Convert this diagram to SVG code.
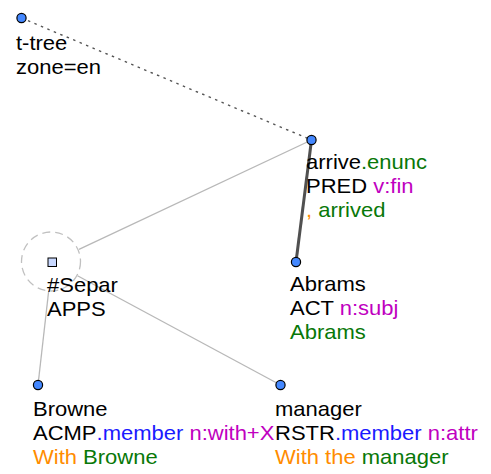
<svg xmlns="http://www.w3.org/2000/svg" width="491" height="474" viewBox="0 0 491 474">
<style>
text{font-family:"Liberation Sans",Arial,Helvetica,sans-serif;font-size:20px;fill:#000}
.node{fill:#4488ff;stroke:#000;stroke-width:1.2}
.g{fill:#087808}.m{fill:#c000c0}.b{fill:#1a1aff}.o{fill:#ff8c00}
.thin{stroke:#b8b8b8;stroke-width:1.3;fill:none}
.thick{stroke:#505050;stroke-width:3;fill:none}
.dot{stroke:#555;stroke-width:1.4;stroke-dasharray:2.5 4.5;fill:none}
</style>
<rect width="491" height="474" fill="#fff"/>
<g id="connectors">
<line class="dot" x1="21.5" y1="18" x2="311.5" y2="140"/>
<line class="thin" x1="311.5" y1="140" x2="79" y2="249.3"/>
<line class="thick" x1="311.5" y1="140" x2="296" y2="262"/>
<line class="thin" x1="48.7" y1="290.8" x2="38" y2="385"/>
<line class="thin" x1="77.5" y1="275.8" x2="280.5" y2="385"/>
</g>
<g id="ttree">
<circle class="node" cx="21.5" cy="18" r="4.6"/>
<g transform="translate(16,0) scale(1.1,1)"><text x="0" y="50">t-tree</text><text x="0" y="74">zone=en</text></g>
</g>
<g id="arrive">
<circle class="node" cx="311.5" cy="140" r="4.6"/>
<g transform="translate(306,0) scale(1.1,1)"><text x="0" y="169">arrive<tspan class="g">.enunc</tspan></text><text x="0" y="193">PRED <tspan class="m">v:fin</tspan></text><text x="0" y="217"><tspan class="o">,</tspan><tspan class="g"> arrived</tspan></text></g>
</g>
<g id="separ">
<circle cx="51" cy="261.5" r="29.5" fill="none" stroke="#c0c0c0" stroke-width="1.3" stroke-dasharray="8 5"/>
<rect x="48" y="258" width="8.5" height="8.5" fill="#c8d8ff" stroke="#000" stroke-width="1"/>
<g transform="translate(47,0) scale(1.1,1)"><text x="0" y="292">#Separ</text><text x="0" y="316">APPS</text></g>
</g>
<g id="abrams">
<circle class="node" cx="296" cy="262" r="4.6"/>
<g transform="translate(290,0) scale(1.1,1)"><text x="0" y="291">Abrams</text><text x="0" y="315">ACT <tspan class="m">n:subj</tspan></text><text x="0" y="339" class="g">Abrams</text></g>
</g>
<g id="browne">
<circle class="node" cx="38" cy="385" r="4.6"/>
<g transform="translate(33,0) scale(1.1,1)"><text x="0" y="416">Browne</text><text x="0" y="440">ACMP<tspan class="b">.member</tspan> <tspan class="m">n:with+X</tspan></text><text x="0" y="464"><tspan class="o">With</tspan> <tspan class="g">Browne</tspan></text></g>
</g>
<g id="manager">
<circle class="node" cx="280.5" cy="385" r="4.6"/>
<g transform="translate(275,0) scale(1.1,1)"><text x="0" y="416">manager</text><text x="0" y="440">RSTR<tspan class="b">.member</tspan> <tspan class="m">n:attr</tspan></text><text x="0" y="464"><tspan class="o">With the</tspan> <tspan class="g">manager</tspan></text></g>
</g>
</svg>
